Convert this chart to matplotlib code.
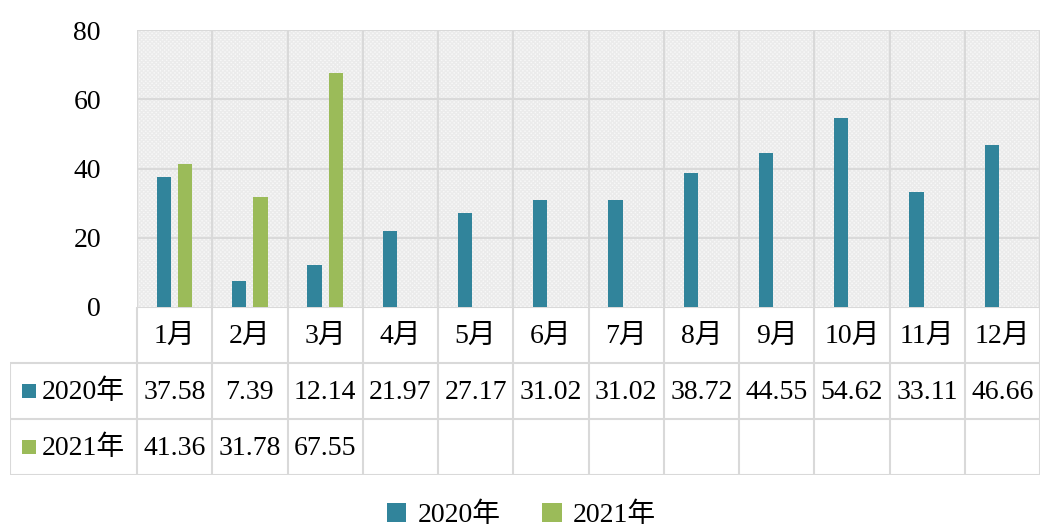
import matplotlib.pyplot as plt
import numpy as np
from matplotlib.patches import Patch, Rectangle

plt.rcParams['font.family'] = ['Liberation Serif', 'Noto Sans CJK SC']

months = ['1月', '2月', '3月', '4月', '5月', '6月', '7月', '8月', '9月', '10月', '11月', '12月']
v2020 = [37.58, 7.39, 12.14, 21.97, 27.17, 31.02, 31.02, 38.72, 44.55, 54.62, 33.11, 46.66]
v2021 = [41.36, 31.78, 67.55]
series_names = ['2020年', '2021年']
colors = ['#31849B', '#9BBB59']
grid_c = '#d9d9d9'

W, H = 1043, 527
fig = plt.figure(figsize=(W / 100, H / 100), dpi=100)

# chart area
x0, x1, y0, y1 = 137, 1040, 30, 307
ax = fig.add_axes([x0 / W, 1 - y1 / H, (x1 - x0) / W, (y1 - y0) / H])
n = len(months)
ax.set_xlim(0, n)
ax.set_ylim(0, 80)
ax.add_patch(Rectangle((0, 0), n, 80, facecolor='#f8f8f8', edgecolor='#ebebeb',
                       hatch='xxxxxxxx', linewidth=0, zorder=0))
for s in ax.spines.values():
    s.set_visible(False)
for yv in [20, 40, 60, 80]:
    ax.axhline(yv, color=grid_c, lw=1.5, zorder=1)
for xv in range(0, n + 1):
    ax.axvline(xv, color=grid_c, lw=1.5, zorder=1)

idx = np.arange(n) + 0.5
bw = 0.19
ax.bar(idx - 0.14, v2020, width=bw, color=colors[0], zorder=3)
ax.bar(idx[:len(v2021)] + 0.14, v2021, width=bw, color=colors[1], zorder=3)
ax.set_xticks([])
ax.set_yticks([0, 20, 40, 60, 80])
ax.tick_params(axis='y', length=0, pad=26, labelsize=20)

# data table
tx0, tx1, ty0, ty1 = 10, 1040, 307, 475
tax = fig.add_axes([tx0 / W, 1 - ty1 / H, (tx1 - tx0) / W, (ty1 - ty0) / H])
cw = (x1 - x0) / n
left = -(x0 - tx0) / cw
tax.set_xlim(left, n)
tax.set_ylim(3, 0)
tax.axis('off')
lk = dict(color=grid_c, lw=1.5, solid_capstyle='butt')
# horizontal lines
tax.plot([0, n], [0, 0], **lk)
for r in [1, 2, 3]:
    tax.plot([left, n], [r, r], **lk)
# vertical lines
tax.plot([left, left], [1, 3], **lk)
for c in range(0, n + 1):
    tax.plot([c, c], [0, 3], **lk)

for i, m in enumerate(months):
    tax.text(i + 0.5, 0.52, m, ha='center', va='center', fontsize=20)
rows = [v2020, v2021]
for r, vals in enumerate(rows):
    for i, v in enumerate(vals):
        tax.text(i + 0.5, r + 1.52, f'{v:.2f}', ha='center', va='center', fontsize=20)
    tax.add_patch(Rectangle((left + 12 / cw, r + 1.5 - 0.125), 14 / cw, 0.25,
                            facecolor=colors[r], edgecolor='none'))
    tax.text(left + 32 / cw, r + 1.52, series_names[r], ha='left', va='center', fontsize=20)

handles = [Patch(facecolor=c) for c in colors]
fig.legend(handles, series_names, loc='center', bbox_to_anchor=(0.5, 0.022), ncol=2,
           frameon=False, fontsize=20, handlelength=0.7, handleheight=0.7,
           handletextpad=0.4, columnspacing=1.5)

fig.savefig('out.png', dpi=100)
